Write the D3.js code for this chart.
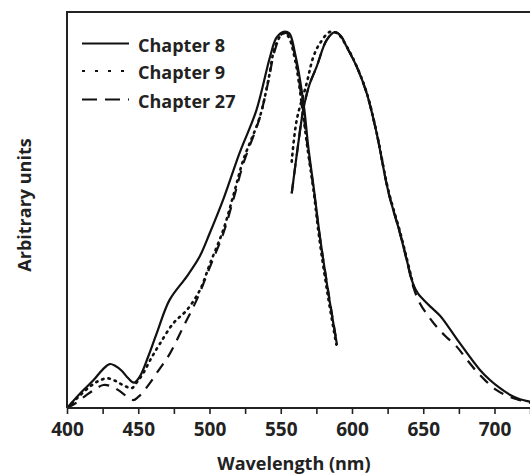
<!DOCTYPE html>
<html><head><meta charset="utf-8">
<script src="https://cdn.jsdelivr.net/npm/d3@7"></script>
<style>html,body{margin:0;padding:0;background:#fff;}svg{display:block;}</style>
</head><body>
<script>
// ---- data ----
const seriesNames = ["Chapter 8", "Chapter 9", "Chapter 27"];
const xTicks = [400,425,450,475,500,525,550,575,600,625,650,675,700,725];
const xTickLabels = ["400","","450","","500","","550","","600","","650","","700",""];

const ch8ExWl = [400,410,418.5,425,430,434,438.4,443,447,451,457,463,472,484,493,500,510,521,533,542.5,547,552,556,560,566,569.3,573,577.5,584,589.5];
const ch8ExVal = [0,0.04,0.07,0.097,0.111,0.106,0.094,0.075,0.064,0.079,0.13,0.189,0.273,0.332,0.382,0.44,0.53,0.643,0.753,0.887,0.935,0.95,0.946,0.896,0.769,0.66,0.56,0.433,0.277,0.159];

const ch9ExWl = [400,408,416,422,428,433,437,441,445.4,449,453.5,459,465.3,474.6,484,493.3,500.4,509.7,517,523.7,535.4,541.3,546,551.6,555,560,565,569,573,577,583,589];
const ch9ExVal = [0,0.028,0.054,0.068,0.075,0.07,0.062,0.055,0.05,0.065,0.088,0.125,0.163,0.214,0.247,0.298,0.365,0.45,0.54,0.626,0.736,0.828,0.912,0.946,0.94,0.88,0.76,0.65,0.55,0.43,0.285,0.16];

const ch27ExWl = [400,406,413.8,420,425.5,431,436,441,446.5,450,453.5,458,462.9,472.3,481.6,491,500.4,509.7,517,524,535,541,546,551,555,560,565,569,573,577.5,584,589.5];
const ch27ExVal = [0,0.012,0.033,0.048,0.058,0.055,0.045,0.032,0.02,0.028,0.041,0.062,0.088,0.138,0.205,0.273,0.357,0.441,0.53,0.62,0.73,0.82,0.905,0.945,0.945,0.89,0.77,0.655,0.555,0.43,0.28,0.16];

const ch8EmWl = [557.7,562,565.8,570,575.2,582.2,588,592,596.3,603.3,610.3,617.3,625.5,633.7,638.4,643,646.5,650,655,661.8,668,675.8,689.8,697,703.9,711,717.9,725,730];
const ch8EmVal = [0.542,0.66,0.753,0.815,0.862,0.929,0.949,0.94,0.912,0.862,0.795,0.694,0.546,0.441,0.374,0.312,0.288,0.274,0.256,0.233,0.203,0.163,0.096,0.07,0.05,0.033,0.022,0.016,0.012];

const ch9EmWl = [557.7,561.2,568.2,572.9,577.5,584.6,590,596,603,610,617,625.5,633.7,638.4,643];
const ch9EmVal = [0.622,0.727,0.82,0.887,0.921,0.95,0.945,0.915,0.865,0.80,0.70,0.55,0.445,0.378,0.31];

const ch27EmWl = [557.7,562,565.8,570,575.2,582.2,588,592,596.3,603.3,610.3,617.3,625.5,633.7,638.4,643,647.7,653,659.4,666,673.5,680,687.5,694,701.5,708,715.6,722,730];
const ch27EmVal = [0.542,0.66,0.753,0.815,0.862,0.929,0.949,0.94,0.912,0.862,0.795,0.694,0.546,0.441,0.374,0.306,0.264,0.235,0.205,0.18,0.155,0.125,0.092,0.068,0.045,0.032,0.022,0.016,0.01];

// ---- layout ----
const W = 530, H = 474;
const mLeft = 67, mTop = 12, mBottom = 408;
const xMin = 400, xMax = 730, pxPerNm = 1.425;
const font = "'Open Sans', 'DejaVu Sans', sans-serif";

const svg = d3.select("body").append("svg").attr("width", W).attr("height", H)
  .style("background", "#fff");

const x = d3.scaleLinear().domain([xMin, xMax]).range([mLeft, mLeft + (xMax - xMin) * pxPerNm]);
const y = d3.scaleLinear().domain([0, 1]).range([mBottom, mTop]);

svg.append("defs").append("clipPath").attr("id", "clip")
  .append("rect").attr("x", mLeft).attr("y", mTop).attr("width", W - mLeft).attr("height", mBottom - mTop);

const dashes = {solid: null, dotted: "1.5,5", dashed: "11,8"};
const widths = {solid: 2.2, dotted: 2.6, dashed: 2.2};
const line = d3.line().x(d => x(d[0])).y(d => y(d[1])).curve(d3.curveCatmullRom.alpha(0.5));
const zip = (a, b) => a.map((v, i) => [v, b[i]]);

const curves = [
  {wl: ch27ExWl, v: ch27ExVal, s: "dashed"},
  {wl: ch27EmWl, v: ch27EmVal, s: "dashed"},
  {wl: ch9ExWl, v: ch9ExVal, s: "dotted"},
  {wl: ch9EmWl, v: ch9EmVal, s: "dotted"},
  {wl: ch8ExWl, v: ch8ExVal, s: "solid"},
  {wl: ch8EmWl, v: ch8EmVal, s: "solid"}
];
const g = svg.append("g").attr("clip-path", "url(#clip)");
curves.forEach(c => {
  g.append("path").attr("d", line(zip(c.wl, c.v)))
    .attr("fill", "none").attr("stroke", "#111").attr("stroke-width", widths[c.s])
    .attr("stroke-dasharray", dashes[c.s]).attr("stroke-linecap", c.s === "dotted" ? "round" : "butt");
});

// frame
svg.append("line").attr("x1", mLeft).attr("x2", W).attr("y1", mTop).attr("y2", mTop)
  .attr("stroke", "#222").attr("stroke-width", 2);
svg.append("line").attr("x1", mLeft).attr("x2", mLeft).attr("y1", mTop - 1).attr("y2", mBottom)
  .attr("stroke", "#222").attr("stroke-width", 2);

// x axis
const xAxis = d3.axisBottom(x).tickValues(xTicks).tickSize(6).tickPadding(9)
  .tickFormat((d, i) => xTickLabels[i]);
const ax = svg.append("g").attr("transform", `translate(0,${mBottom})`).call(xAxis);
ax.select(".domain").attr("d", `M${mLeft},0H${W}`).attr("stroke", "#222").attr("stroke-width", 2);
ax.selectAll(".tick line").attr("stroke", "#222").attr("stroke-width", 1.6);
ax.selectAll(".tick text").attr("font-family", font).attr("font-weight", 700)
  .attr("font-size", 19).attr("fill", "#222");

// axis titles
svg.append("text").attr("x", 294).attr("y", 470).attr("text-anchor", "middle")
  .attr("font-family", font).attr("font-weight", 700).attr("font-size", 18).attr("fill", "#222")
  .text("Wavelength (nm)");
svg.append("text").attr("transform", "translate(31,205) rotate(-90)").attr("text-anchor", "middle")
  .attr("font-family", font).attr("font-weight", 700).attr("font-size", 18).attr("fill", "#222")
  .text("Arbitrary units");

// legend
const legendStyles = [null, "3,10", "15,8"];
const legendY = [43.5, 71, 99.5];
seriesNames.forEach((n, i) => {
  svg.append("line").attr("x1", 82).attr("x2", 129).attr("y1", legendY[i]).attr("y2", legendY[i])
    .attr("stroke", "#111").attr("stroke-width", 2.2).attr("stroke-dasharray", legendStyles[i]);
  svg.append("text").attr("x", 138).attr("y", legendY[i] + 8).attr("font-family", font)
    .attr("font-weight", 700).attr("font-size", 18).attr("fill", "#222").text(n);
});
</script>
</body></html>
